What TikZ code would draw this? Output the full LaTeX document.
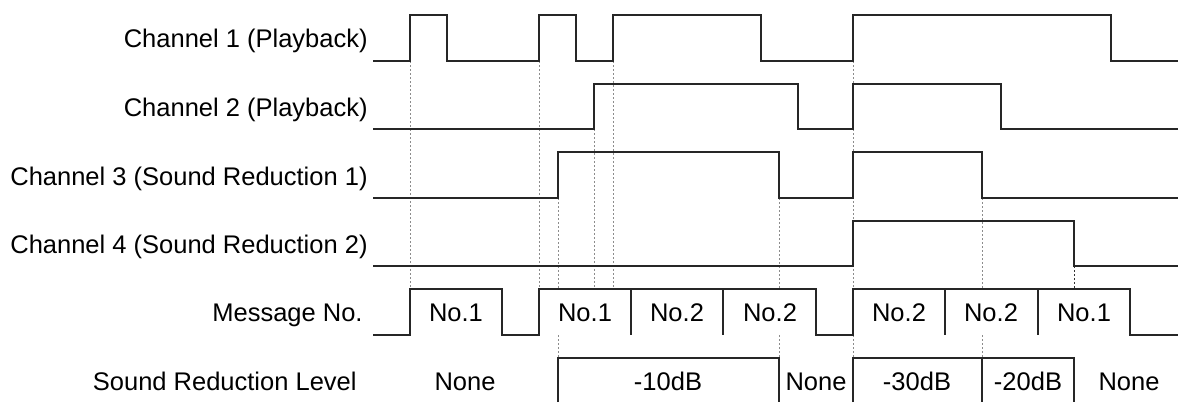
\documentclass[tikz,border=0pt]{standalone}
\usepackage{fontspec}
\setmainfont{Liberation Sans}
\usetikzlibrary{positioning}

\begin{document}
\begin{tikzpicture}[
    x=0.5pt, y=-0.5pt,
    wave/.style={draw=black!85, line width=0.6pt},
    guide/.style={draw=black!45, line width=0.5pt, dash pattern=on 1pt off 1pt},
    sig/.style={anchor=base east, font=\fontsize{12.75}{15}\selectfont, inner sep=0pt},
    cell/.style={anchor=base, font=\fontsize{12.75}{15}\selectfont, inner sep=0pt}
  ]
    \useasboundingbox (0,0) rectangle (1179,402);

    % signal names
    \node[sig] (ch1) at (368,47.5) {Channel 1 (Playback)};
    \node[sig] (ch2) at (368,116) {Channel 2 (Playback)};
    \node[sig] (ch3) at (368,185) {Channel 3 (Sound Reduction 1)};
    \node[sig] (ch4) at (368,253) {Channel 4 (Sound Reduction 2)};
    \node[sig] (msg) at (363,321) {Message No.};
    \node[sig] (lvl) at (357,390) {Sound Reduction Level};

    % guide lines
    \foreach \x/\y in {410/61, 539/61, 613/61, 853/61, 594/129, 558/198, 779/198, 982/198}
      \draw[guide] (\x,\y) -- (\x,289);
    \foreach \x in {558, 779, 853, 982}
      \draw[guide] (\x,335) -- (\x,358);
    \draw[guide, draw=black!80] (1074,266) -- (1074,289);

    % channel waves
    \draw[wave] (373,61) -| (410,15) -| (447,61) -| (539,15) -| (576,61) -| (613,15)
      -| (761,61) -| (853,15) -| (1111,61) -- (1178,61);
    \draw[wave] (373,129) -| (594,84) -| (798,129) -| (853,84) -| (1001,129) -- (1178,129);
    \draw[wave] (373,198) -| (558,152) -| (779,198) -| (853,152) -| (982,198) -- (1178,198);
    \draw[wave] (373,266) -| (853,221) -| (1074,266) -- (1178,266);

    % message row
    \draw[wave] (373,335) -| (410,289) -| (502,335) -| (539,289) -| (816,335) -| (853,289)
      -| (1130,335) -- (1178,335);
    \foreach \x in {631, 723, 945, 1038}
      \draw[wave] (\x,289) -- (\x,335);
    \node[cell] (m1) at (456,321) {No.1};
    \node[cell] (m2) at (585,321) {No.1};
    \node[cell] (m3) at (677,321) {No.2};
    \node[cell] (m4) at (770,321) {No.2};
    \node[cell] (m5) at (899,321) {No.2};
    \node[cell] (m6) at (991,321) {No.2};
    \node[cell] (m7) at (1084,321) {No.1};

    % reduction level row
    \draw[wave] (558,402) |- (779,358) -- (779,402);
    \draw[wave] (853,402) |- (1074,358) -- (1074,402);
    \draw[wave] (982,358) -- (982,402);
    \node[cell] (l1) at (465,390) {None};
    \node[cell] (l2) at (668,390) {-10dB};
    \node[cell] (l3) at (816,390) {None};
    \node[cell] (l4) at (917,390) {-30dB};
    \node[cell] (l5) at (1028,390) {-20dB};
    \node[cell] (l6) at (1129,390) {None};
\end{tikzpicture}
\end{document}
